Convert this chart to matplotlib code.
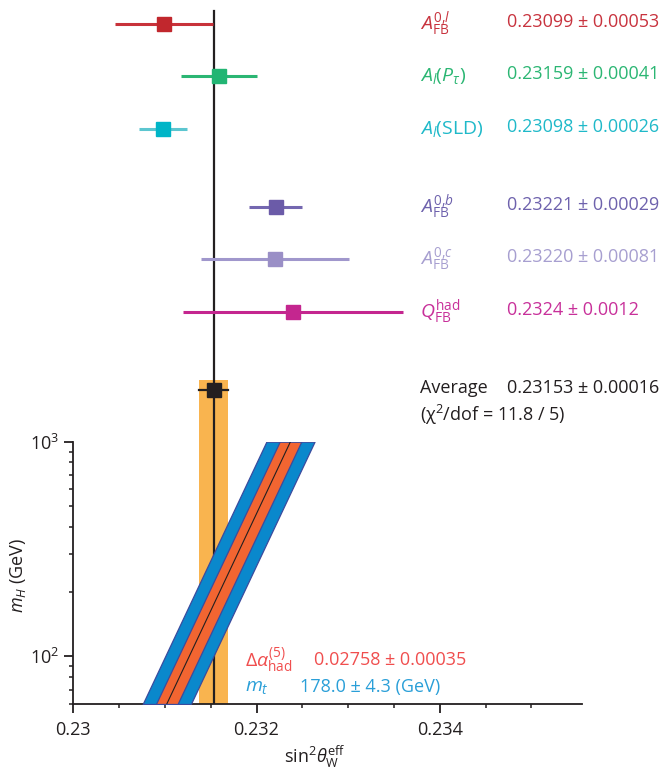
import numpy as np
import matplotlib
matplotlib.use("Agg")
import matplotlib.pyplot as plt
from matplotlib.ticker import FixedLocator, NullFormatter

plt.rcParams['font.family'] = ['Open Sans', 'DejaVu Sans']
plt.rcParams['mathtext.fontset'] = 'custom'
plt.rcParams['mathtext.rm'] = 'Open Sans'
plt.rcParams['mathtext.it'] = 'Open Sans:italic'
plt.rcParams['mathtext.bf'] = 'Open Sans:bold'

# measurements of sin^2 theta_eff
labels = [r'$A_{\rm FB}^{0{,}l}$', r'$A_l(P_\tau)$', r'$A_l$(SLD)',
          r'$A_{\rm FB}^{0{,}b}$', r'$A_{\rm FB}^{0{,}c}$', r'$Q_{\rm FB}^{\rm had}$']
values = [0.23099, 0.23159, 0.23098, 0.23221, 0.23220, 0.2324]
errors = [0.00053, 0.00041, 0.00026, 0.00029, 0.00081, 0.0012]
value_text = ['0.23099 ± 0.00053', '0.23159 ± 0.00041', '0.23098 ± 0.00026',
              '0.23221 ± 0.00029', '0.23220 ± 0.00081', '0.2324 ± 0.0012']
marker_colors = ['#c1272d', '#22b573', '#00b5c7', '#6b5ba8', '#9a8fc6', '#c4268f']
bar_colors = ['#c8323a', '#2bb673', '#5cc6d0', '#7467b0', '#a097cc', '#c4268f']
text_colors = ['#c8333e', '#2bb673', '#1fb9c9', '#6e62ad', '#a79fd0', '#c8309a']
rows = [0, 1, 2, 3.5, 4.5, 5.5]

avg_value = 0.23153
avg_error = 0.00016
avg_row = 7

# SM prediction band vs m_H
mh = [60, 1000]
sm_center = [0.23102, 0.23237]
err_alpha = 0.000118
err_total = 0.000263

fig = plt.figure(figsize=(6.65, 7.73), dpi=100)
ax_top = fig.add_axes([0.1103, 0.4286, 0.7645, 0.5714])
ax = fig.add_axes([0.1103, 0.0893, 0.7645, 0.3393])

xlim = (0.23, 0.23555)
black = '#231f20'
band_orange = '#f9b44f'
fs_lab = 14
fs_val = 13

# ---- top panel ----
ax_top.set_xlim(xlim)
ax_top.set_ylim(7.987, -0.459)
ax_top.axis('off')
tr = ax_top.get_yaxis_transform()

for i in range(len(values)):
    ax_top.plot([values[i] - errors[i], values[i] + errors[i]], [rows[i], rows[i]],
                color=bar_colors[i], lw=2.2, solid_capstyle='butt', zorder=3)
    ax_top.plot(values[i], rows[i], 's', ms=10, color=marker_colors[i], zorder=4)
    ax_top.text(0.682, rows[i], labels[i], color=text_colors[i], fontsize=fs_lab,
                va='center', transform=tr)
    ax_top.text(0.853, rows[i] - 0.04, value_text[i], color=text_colors[i], fontsize=fs_val,
                va='center', transform=tr)

ax_top.fill_betweenx([avg_row - 0.19, 7.987], avg_value - avg_error, avg_value + avg_error,
                     color=band_orange, lw=0, zorder=1)
ax_top.plot([avg_value, avg_value], [-0.249, 7.987], color=black, lw=1.6, zorder=2)
ax_top.plot([avg_value - avg_error, avg_value + avg_error], [avg_row, avg_row],
            color=black, lw=1.6, zorder=3)
ax_top.plot(avg_value, avg_row, 's', ms=10, color=black, zorder=4)
ax_top.text(0.682, avg_row - 0.04, 'Average', fontsize=fs_val, color=black, va='center',
            transform=tr)
ax_top.text(0.853, avg_row - 0.04, '0.23153 ± 0.00016', fontsize=fs_val, color=black,
            va='center', transform=tr)
ax_top.text(0.682, avg_row + 0.47, '(χ$^2$/dof = 11.8 / 5)', fontsize=fs_val, color=black,
            va='center', transform=tr)

# ---- bottom panel ----
ax.set_yscale('log')
ax.set_xlim(xlim)
ax.set_ylim(60, 1000)

ax.axvspan(avg_value - avg_error, avg_value + avg_error, color=band_orange, lw=0, zorder=1)
ax.axvline(avg_value, color=black, lw=1.6, zorder=2)

c = np.array(sm_center)
ax.fill_betweenx(mh, c - err_total, c + err_total, facecolor='#0a88cc',
                 edgecolor='#3a4b9e', lw=0.9, zorder=3)
ax.fill_betweenx(mh, c - err_alpha, c + err_alpha, facecolor='#f26531',
                 edgecolor='#3a4b9e', lw=0.9, zorder=4)
ax.plot(c, mh, color=black, lw=0.8, zorder=5)

for s in ['top', 'right']:
    ax.spines[s].set_visible(False)
for s in ['left', 'bottom']:
    ax.spines[s].set_linewidth(1.3)
    ax.spines[s].set_color(black)

ax.xaxis.set_major_locator(FixedLocator([0.23, 0.232, 0.234]))
ax.set_xticklabels(['0.23', '0.232', '0.234'])
ax.xaxis.set_minor_locator(FixedLocator([0.2305, 0.231, 0.2315, 0.2325, 0.233,
                                         0.2335, 0.2345, 0.235]))
ax.tick_params(axis='both', which='major', length=6.5, width=1.3, color=black,
               labelsize=fs_val, labelcolor=black)
ax.tick_params(axis='both', which='minor', length=3.2, width=1.1, color=black)
ax.tick_params(axis='x', which='major', pad=6)
ax.yaxis.set_minor_formatter(NullFormatter())

ax.text(0.3377, 0.168, r'$\Delta\alpha_{\rm had}^{(5)}$', color='#f04e4e', fontsize=fs_lab,
        va='center', transform=ax.transAxes)
ax.text(0.4735, 0.168, '0.02758 ± 0.00035', color='#f04e4e', fontsize=fs_val,
        va='center', transform=ax.transAxes)
ax.text(0.3377, 0.065, r'$m_t$', color='#2a9fd8', fontsize=fs_lab,
        va='center', transform=ax.transAxes)
ax.text(0.446, 0.065, '178.0 ± 4.3 (GeV)', color='#2a9fd8', fontsize=fs_val,
        va='center', transform=ax.transAxes)

fig.text(18 / 665, 1 - 575 / 773, r'$m_H$ (GeV)', rotation=90, fontsize=fs_val,
         color=black, ha='center', va='center')
fig.text(315 / 665, 1 - 757 / 773, r'sin$^2\theta_{\rm W}^{\rm eff}$', fontsize=fs_val,
         color=black, ha='center', va='center')

fig.savefig('out.png', dpi=100)
